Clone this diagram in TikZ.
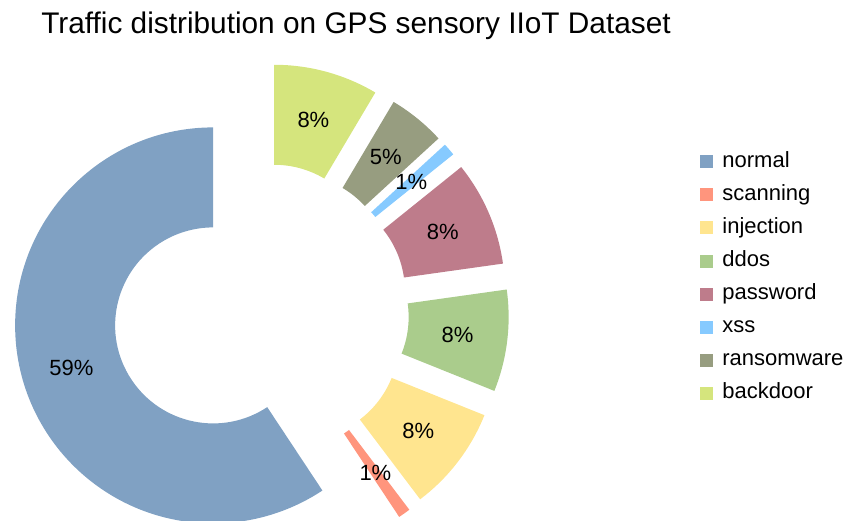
\documentclass[tikz,border=0pt]{standalone}
\usepackage{fontspec}
\setmainfont{Liberation Sans}
\usetikzlibrary{positioning}
\definecolor{c-normal}{RGB}{128,161,195}
\definecolor{c-scanning}{RGB}{255,149,125}
\definecolor{c-injection}{RGB}{255,229,143}
\definecolor{c-ddos}{RGB}{170,204,140}
\definecolor{c-password}{RGB}{190,124,139}
\definecolor{c-xss}{RGB}{134,202,255}
\definecolor{c-ransomware}{RGB}{151,157,128}
\definecolor{c-backdoor}{RGB}{213,229,125}
\tikzset{
  ttl/.style    = { font=\fontsize{29.8}{35}\selectfont, anchor=base },
  pct/.style    = { font=\fontsize{22}{26}\selectfont, inner sep=0pt },
  keybox/.style = { fill=#1, minimum size=13pt, inner sep=0pt },
  keytxt/.style = { font=\fontsize{22}{26}\selectfont, inner sep=0pt,
    text height=16pt, text depth=4.5pt }
}

\begin{document}
\begin{tikzpicture}[x=1pt,y=1pt]
  \useasboundingbox (0,0) rectangle (845,520);
  \clip (0,0) rectangle (845,520);
  \node[ttl] (title) at (356,486) {Traffic distribution on GPS sensory IIoT Dataset};

  % ring: every slice pushed 50 out along its middle
  \coordinate (o) at (261,209);
  \foreach \name/\from/\to/\lbl in {normal/90/303.5/59\%, scanning/303.5/307.1/1\%,
      injection/307.1/338.1/8\%, ddos/338.1/368/8\%, password/368/398.8/8\%,
      xss/398.8/402.5/1\%, ransomware/402.5/419.3/5\%, backdoor/419.3/450/8\%} {
    \pgfmathsetmacro\mid{(\from+\to)/2}
    \path (o) ++(\mid:50) coordinate (c-\name);
    \begin{scope}[shift={(c-\name)}]
      \fill[c-\name] (\from:98) -- (\from:198) arc[start angle=\from, end angle=\to, radius=198]
        -- (\to:98) arc[start angle=\to, end angle=\from, radius=98] -- cycle;
    \end{scope}
    \path (c-\name) ++(\mid:148) node[pct] (p-\name) {\lbl};
  }

  % legend
  \foreach \name [count=\i from 0] in {normal,scanning,injection,ddos,password,xss,ransomware,backdoor} {
    \node[keybox=c-\name] (k-\name) at (706.5,358-33*\i) {};
    \node[keytxt, right=9pt of k-\name] (t-\name) {\name};
  }
\end{tikzpicture}
\end{document}
